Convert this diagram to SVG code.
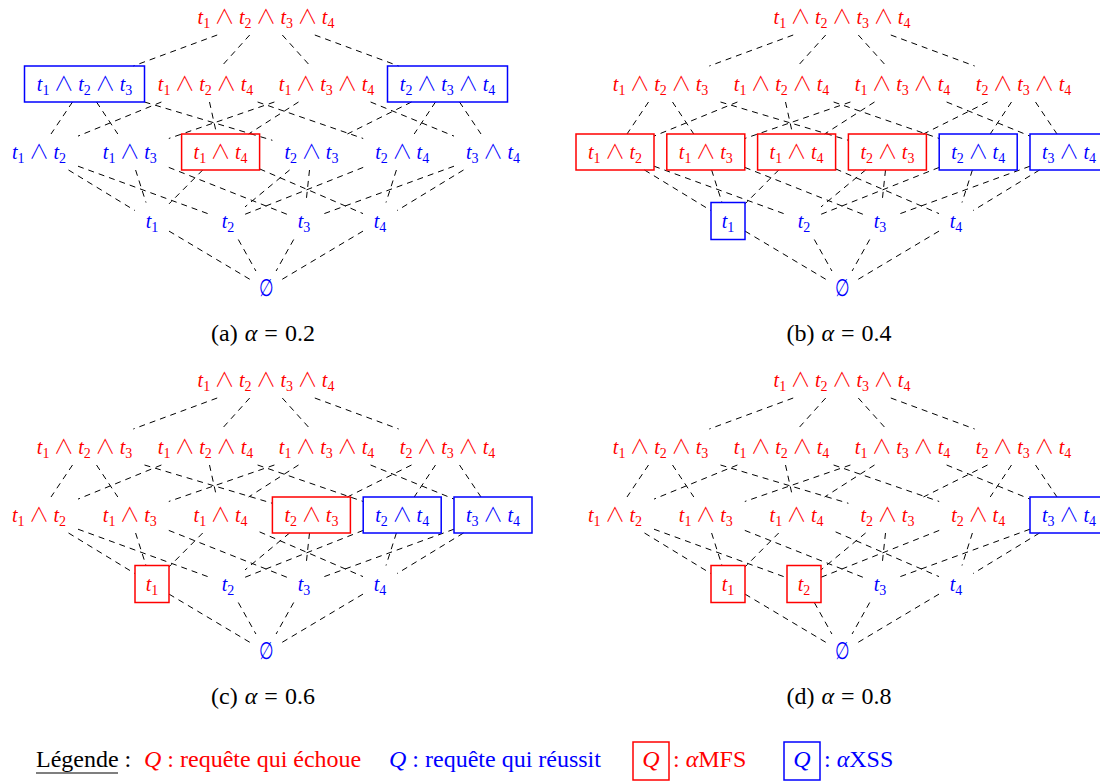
<svg xmlns="http://www.w3.org/2000/svg" width="1100" height="782" viewBox="0 0 1100 782">
<style>
.e line{stroke:#000;stroke-width:1;stroke-dasharray:6 5;fill:none}
text{font-family:"Liberation Serif","DejaVu Serif",serif;font-size:20px;text-anchor:middle}
.r{fill:#ff0000}.b{fill:#0000ff}
.br{fill:none;stroke:#ff0000;stroke-width:1.5}
.bb{fill:none;stroke:#0000ff;stroke-width:1.5}
.v{font-style:italic}
.s{font-size:14px}
.o{font-family:"Noto Sans CJK JP","DejaVu Serif",sans-serif;font-weight:300}
.z{font-family:"DejaVu Serif",serif;font-size:21px}
.cap{font-size:24px;fill:#000;word-spacing:1px}
.lg{font-size:24px;text-anchor:start}
</style>
<rect width="1100" height="782" fill="#fff"/>

<!-- Panel (a) -->
<g id="panel-a">
<g id="a-edges" class="e">
<line x1="217.2" y1="35" x2="133.3" y2="66"/><line x1="249.7" y1="35" x2="221.8" y2="66"/><line x1="282.3" y1="35" x2="310.2" y2="66"/><line x1="314.8" y1="35" x2="398.7" y2="66"/>
<line x1="72.5" y1="102" x2="51" y2="134"/><line x1="96.5" y1="102" x2="117.8" y2="134"/><line x1="144.5" y1="102" x2="272.4" y2="140.3"/><line x1="161.4" y1="102" x2="78" y2="136.1"/><line x1="209.5" y1="102" x2="216.6" y2="134"/><line x1="257.6" y1="102" x2="363.2" y2="138.5"/><line x1="274.4" y1="102" x2="168.8" y2="138.5"/><line x1="298.5" y1="102" x2="248.6" y2="134"/><line x1="370.6" y1="102" x2="454" y2="136.1"/><line x1="411.5" y1="102" x2="347.4" y2="134"/><line x1="435.5" y1="102" x2="414.2" y2="134"/><line x1="459.5" y1="102" x2="481" y2="134"/>
<line x1="68.5" y1="170" x2="135" y2="210.6"/><line x1="78" y1="166.2" x2="211" y2="214.8"/><line x1="135.6" y1="170" x2="146" y2="202.5"/><line x1="168.8" y1="167.4" x2="287" y2="214.3"/><line x1="202.7" y1="170" x2="169" y2="203.9"/><line x1="259.6" y1="168.9" x2="363" y2="213.6"/><line x1="289.6" y1="170" x2="245" y2="206.9"/><line x1="309.5" y1="170" x2="306" y2="202.5"/><line x1="363.2" y1="167.4" x2="245" y2="214.3"/><line x1="396.4" y1="170" x2="386" y2="202.5"/><line x1="454" y1="166.2" x2="321" y2="214.8"/><line x1="463.5" y1="170" x2="397" y2="210.6"/>
<line x1="169" y1="231.1" x2="254" y2="281.8"/><line x1="238.3" y1="239.5" x2="255.9" y2="271"/><line x1="293.7" y1="239.5" x2="276.1" y2="271"/><line x1="363" y1="231.1" x2="278" y2="281.8"/>
</g>
<g id="a-t1234"><text x="266" y="24" class="r"><tspan class="v">t</tspan><tspan class="s" dy="4">1</tspan><tspan class="o" dy="-4"> ∧ </tspan><tspan class="v">t</tspan><tspan class="s" dy="4">2</tspan><tspan class="o" dy="-4"> ∧ </tspan><tspan class="v">t</tspan><tspan class="s" dy="4">3</tspan><tspan class="o" dy="-4"> ∧ </tspan><tspan class="v">t</tspan><tspan class="s" dy="4">4</tspan></text></g>
<g id="a-t123"><rect x="24.5" y="66" width="120" height="36" class="bb"/><text x="84.5" y="91" class="b"><tspan class="v">t</tspan><tspan class="s" dy="4">1</tspan><tspan class="o" dy="-4"> ∧ </tspan><tspan class="v">t</tspan><tspan class="s" dy="4">2</tspan><tspan class="o" dy="-4"> ∧ </tspan><tspan class="v">t</tspan><tspan class="s" dy="4">3</tspan></text></g>
<g id="a-t124"><text x="205.5" y="91" class="r"><tspan class="v">t</tspan><tspan class="s" dy="4">1</tspan><tspan class="o" dy="-4"> ∧ </tspan><tspan class="v">t</tspan><tspan class="s" dy="4">2</tspan><tspan class="o" dy="-4"> ∧ </tspan><tspan class="v">t</tspan><tspan class="s" dy="4">4</tspan></text></g>
<g id="a-t134"><text x="326.5" y="91" class="r"><tspan class="v">t</tspan><tspan class="s" dy="4">1</tspan><tspan class="o" dy="-4"> ∧ </tspan><tspan class="v">t</tspan><tspan class="s" dy="4">3</tspan><tspan class="o" dy="-4"> ∧ </tspan><tspan class="v">t</tspan><tspan class="s" dy="4">4</tspan></text></g>
<g id="a-t234"><rect x="387.5" y="66" width="120" height="36" class="bb"/><text x="447.5" y="91" class="b"><tspan class="v">t</tspan><tspan class="s" dy="4">2</tspan><tspan class="o" dy="-4"> ∧ </tspan><tspan class="v">t</tspan><tspan class="s" dy="4">3</tspan><tspan class="o" dy="-4"> ∧ </tspan><tspan class="v">t</tspan><tspan class="s" dy="4">4</tspan></text></g>
<g id="a-t12"><text x="39" y="159" class="b"><tspan class="v">t</tspan><tspan class="s" dy="4">1</tspan><tspan class="o" dy="-4"> ∧ </tspan><tspan class="v">t</tspan><tspan class="s" dy="4">2</tspan></text></g>
<g id="a-t13"><text x="129.8" y="159" class="b"><tspan class="v">t</tspan><tspan class="s" dy="4">1</tspan><tspan class="o" dy="-4"> ∧ </tspan><tspan class="v">t</tspan><tspan class="s" dy="4">3</tspan></text></g>
<g id="a-t14"><rect x="181.6" y="134" width="78" height="36" class="br"/><text x="220.6" y="159" class="r"><tspan class="v">t</tspan><tspan class="s" dy="4">1</tspan><tspan class="o" dy="-4"> ∧ </tspan><tspan class="v">t</tspan><tspan class="s" dy="4">4</tspan></text></g>
<g id="a-t23"><text x="311.4" y="159" class="b"><tspan class="v">t</tspan><tspan class="s" dy="4">2</tspan><tspan class="o" dy="-4"> ∧ </tspan><tspan class="v">t</tspan><tspan class="s" dy="4">3</tspan></text></g>
<g id="a-t24"><text x="402.2" y="159" class="b"><tspan class="v">t</tspan><tspan class="s" dy="4">2</tspan><tspan class="o" dy="-4"> ∧ </tspan><tspan class="v">t</tspan><tspan class="s" dy="4">4</tspan></text></g>
<g id="a-t34"><text x="493" y="159" class="b"><tspan class="v">t</tspan><tspan class="s" dy="4">3</tspan><tspan class="o" dy="-4"> ∧ </tspan><tspan class="v">t</tspan><tspan class="s" dy="4">4</tspan></text></g>
<g id="a-t1"><text x="152" y="228" class="b"><tspan class="v">t</tspan><tspan class="s" dy="4">1</tspan></text></g>
<g id="a-t2"><text x="228" y="228" class="b"><tspan class="v">t</tspan><tspan class="s" dy="4">2</tspan></text></g>
<g id="a-t3"><text x="304" y="228" class="b"><tspan class="v">t</tspan><tspan class="s" dy="4">3</tspan></text></g>
<g id="a-t4"><text x="380" y="228" class="b"><tspan class="v">t</tspan><tspan class="s" dy="4">4</tspan></text></g>
<g id="a-empty"><text transform="translate(266,296) scale(0.8,1.15)" class="b z">∅</text></g>
<text x="263" y="341" class="cap">(a) <tspan class="v">α</tspan> = 0.2</text>
</g>

<!-- Panel (b) -->
<g id="panel-b" transform="translate(576,0)">
<g id="b-edges" class="e">
<line x1="217.2" y1="35" x2="133.3" y2="66"/><line x1="249.7" y1="35" x2="221.8" y2="66"/><line x1="282.3" y1="35" x2="310.2" y2="66"/><line x1="314.8" y1="35" x2="398.7" y2="66"/>
<line x1="72.5" y1="102" x2="51" y2="134"/><line x1="96.5" y1="102" x2="117.8" y2="134"/><line x1="144.5" y1="102" x2="272.4" y2="140.3"/><line x1="161.4" y1="102" x2="78" y2="136.1"/><line x1="209.5" y1="102" x2="216.6" y2="134"/><line x1="257.6" y1="102" x2="363.2" y2="138.5"/><line x1="274.4" y1="102" x2="168.8" y2="138.5"/><line x1="298.5" y1="102" x2="248.6" y2="134"/><line x1="370.6" y1="102" x2="454" y2="136.1"/><line x1="411.5" y1="102" x2="347.4" y2="134"/><line x1="435.5" y1="102" x2="414.2" y2="134"/><line x1="459.5" y1="102" x2="481" y2="134"/>
<line x1="68.5" y1="170" x2="135" y2="210.6"/><line x1="78" y1="166.2" x2="211" y2="214.8"/><line x1="135.6" y1="170" x2="146" y2="202.5"/><line x1="168.8" y1="167.4" x2="287" y2="214.3"/><line x1="202.7" y1="170" x2="169" y2="203.9"/><line x1="259.6" y1="168.9" x2="363" y2="213.6"/><line x1="289.6" y1="170" x2="245" y2="206.9"/><line x1="309.5" y1="170" x2="306" y2="202.5"/><line x1="363.2" y1="167.4" x2="245" y2="214.3"/><line x1="396.4" y1="170" x2="386" y2="202.5"/><line x1="454" y1="166.2" x2="321" y2="214.8"/><line x1="463.5" y1="170" x2="397" y2="210.6"/>
<line x1="169" y1="231.1" x2="254" y2="281.8"/><line x1="238.3" y1="239.5" x2="255.9" y2="271"/><line x1="293.7" y1="239.5" x2="276.1" y2="271"/><line x1="363" y1="231.1" x2="278" y2="281.8"/>
</g>
<g id="b-t1234"><text x="266" y="24" class="r"><tspan class="v">t</tspan><tspan class="s" dy="4">1</tspan><tspan class="o" dy="-4"> ∧ </tspan><tspan class="v">t</tspan><tspan class="s" dy="4">2</tspan><tspan class="o" dy="-4"> ∧ </tspan><tspan class="v">t</tspan><tspan class="s" dy="4">3</tspan><tspan class="o" dy="-4"> ∧ </tspan><tspan class="v">t</tspan><tspan class="s" dy="4">4</tspan></text></g>
<g id="b-t123"><text x="84.5" y="91" class="r"><tspan class="v">t</tspan><tspan class="s" dy="4">1</tspan><tspan class="o" dy="-4"> ∧ </tspan><tspan class="v">t</tspan><tspan class="s" dy="4">2</tspan><tspan class="o" dy="-4"> ∧ </tspan><tspan class="v">t</tspan><tspan class="s" dy="4">3</tspan></text></g>
<g id="b-t124"><text x="205.5" y="91" class="r"><tspan class="v">t</tspan><tspan class="s" dy="4">1</tspan><tspan class="o" dy="-4"> ∧ </tspan><tspan class="v">t</tspan><tspan class="s" dy="4">2</tspan><tspan class="o" dy="-4"> ∧ </tspan><tspan class="v">t</tspan><tspan class="s" dy="4">4</tspan></text></g>
<g id="b-t134"><text x="326.5" y="91" class="r"><tspan class="v">t</tspan><tspan class="s" dy="4">1</tspan><tspan class="o" dy="-4"> ∧ </tspan><tspan class="v">t</tspan><tspan class="s" dy="4">3</tspan><tspan class="o" dy="-4"> ∧ </tspan><tspan class="v">t</tspan><tspan class="s" dy="4">4</tspan></text></g>
<g id="b-t234"><text x="447.5" y="91" class="r"><tspan class="v">t</tspan><tspan class="s" dy="4">2</tspan><tspan class="o" dy="-4"> ∧ </tspan><tspan class="v">t</tspan><tspan class="s" dy="4">3</tspan><tspan class="o" dy="-4"> ∧ </tspan><tspan class="v">t</tspan><tspan class="s" dy="4">4</tspan></text></g>
<g id="b-t12"><rect x="0" y="134" width="78" height="36" class="br"/><text x="39" y="159" class="r"><tspan class="v">t</tspan><tspan class="s" dy="4">1</tspan><tspan class="o" dy="-4"> ∧ </tspan><tspan class="v">t</tspan><tspan class="s" dy="4">2</tspan></text></g>
<g id="b-t13"><rect x="90.8" y="134" width="78" height="36" class="br"/><text x="129.8" y="159" class="r"><tspan class="v">t</tspan><tspan class="s" dy="4">1</tspan><tspan class="o" dy="-4"> ∧ </tspan><tspan class="v">t</tspan><tspan class="s" dy="4">3</tspan></text></g>
<g id="b-t14"><rect x="181.6" y="134" width="78" height="36" class="br"/><text x="220.6" y="159" class="r"><tspan class="v">t</tspan><tspan class="s" dy="4">1</tspan><tspan class="o" dy="-4"> ∧ </tspan><tspan class="v">t</tspan><tspan class="s" dy="4">4</tspan></text></g>
<g id="b-t23"><rect x="272.4" y="134" width="78" height="36" class="br"/><text x="311.4" y="159" class="r"><tspan class="v">t</tspan><tspan class="s" dy="4">2</tspan><tspan class="o" dy="-4"> ∧ </tspan><tspan class="v">t</tspan><tspan class="s" dy="4">3</tspan></text></g>
<g id="b-t24"><rect x="363.2" y="134" width="78" height="36" class="bb"/><text x="402.2" y="159" class="b"><tspan class="v">t</tspan><tspan class="s" dy="4">2</tspan><tspan class="o" dy="-4"> ∧ </tspan><tspan class="v">t</tspan><tspan class="s" dy="4">4</tspan></text></g>
<g id="b-t34"><rect x="454" y="134" width="78" height="36" class="bb"/><text x="493" y="159" class="b"><tspan class="v">t</tspan><tspan class="s" dy="4">3</tspan><tspan class="o" dy="-4"> ∧ </tspan><tspan class="v">t</tspan><tspan class="s" dy="4">4</tspan></text></g>
<g id="b-t1"><rect x="135" y="202.5" width="34" height="37" class="bb"/><text x="152" y="228" class="b"><tspan class="v">t</tspan><tspan class="s" dy="4">1</tspan></text></g>
<g id="b-t2"><text x="228" y="228" class="b"><tspan class="v">t</tspan><tspan class="s" dy="4">2</tspan></text></g>
<g id="b-t3"><text x="304" y="228" class="b"><tspan class="v">t</tspan><tspan class="s" dy="4">3</tspan></text></g>
<g id="b-t4"><text x="380" y="228" class="b"><tspan class="v">t</tspan><tspan class="s" dy="4">4</tspan></text></g>
<g id="b-empty"><text transform="translate(266,296) scale(0.8,1.15)" class="b z">∅</text></g>
<text x="263" y="341" class="cap">(b) <tspan class="v">α</tspan> = 0.4</text>
</g>

<!-- Panel (c) -->
<g id="panel-c" transform="translate(0,363)">
<g id="c-edges" class="e">
<line x1="217.2" y1="35" x2="133.3" y2="66"/><line x1="249.7" y1="35" x2="221.8" y2="66"/><line x1="282.3" y1="35" x2="310.2" y2="66"/><line x1="314.8" y1="35" x2="398.7" y2="66"/>
<line x1="72.5" y1="102" x2="51" y2="134"/><line x1="96.5" y1="102" x2="117.8" y2="134"/><line x1="144.5" y1="102" x2="272.4" y2="140.3"/><line x1="161.4" y1="102" x2="78" y2="136.1"/><line x1="209.5" y1="102" x2="216.6" y2="134"/><line x1="257.6" y1="102" x2="363.2" y2="138.5"/><line x1="274.4" y1="102" x2="168.8" y2="138.5"/><line x1="298.5" y1="102" x2="248.6" y2="134"/><line x1="370.6" y1="102" x2="454" y2="136.1"/><line x1="411.5" y1="102" x2="347.4" y2="134"/><line x1="435.5" y1="102" x2="414.2" y2="134"/><line x1="459.5" y1="102" x2="481" y2="134"/>
<line x1="68.5" y1="170" x2="135" y2="210.6"/><line x1="78" y1="166.2" x2="211" y2="214.8"/><line x1="135.6" y1="170" x2="146" y2="202.5"/><line x1="168.8" y1="167.4" x2="287" y2="214.3"/><line x1="202.7" y1="170" x2="169" y2="203.9"/><line x1="259.6" y1="168.9" x2="363" y2="213.6"/><line x1="289.6" y1="170" x2="245" y2="206.9"/><line x1="309.5" y1="170" x2="306" y2="202.5"/><line x1="363.2" y1="167.4" x2="245" y2="214.3"/><line x1="396.4" y1="170" x2="386" y2="202.5"/><line x1="454" y1="166.2" x2="321" y2="214.8"/><line x1="463.5" y1="170" x2="397" y2="210.6"/>
<line x1="169" y1="231.1" x2="254" y2="281.8"/><line x1="238.3" y1="239.5" x2="255.9" y2="271"/><line x1="293.7" y1="239.5" x2="276.1" y2="271"/><line x1="363" y1="231.1" x2="278" y2="281.8"/>
</g>
<g id="c-t1234"><text x="266" y="24" class="r"><tspan class="v">t</tspan><tspan class="s" dy="4">1</tspan><tspan class="o" dy="-4"> ∧ </tspan><tspan class="v">t</tspan><tspan class="s" dy="4">2</tspan><tspan class="o" dy="-4"> ∧ </tspan><tspan class="v">t</tspan><tspan class="s" dy="4">3</tspan><tspan class="o" dy="-4"> ∧ </tspan><tspan class="v">t</tspan><tspan class="s" dy="4">4</tspan></text></g>
<g id="c-t123"><text x="84.5" y="91" class="r"><tspan class="v">t</tspan><tspan class="s" dy="4">1</tspan><tspan class="o" dy="-4"> ∧ </tspan><tspan class="v">t</tspan><tspan class="s" dy="4">2</tspan><tspan class="o" dy="-4"> ∧ </tspan><tspan class="v">t</tspan><tspan class="s" dy="4">3</tspan></text></g>
<g id="c-t124"><text x="205.5" y="91" class="r"><tspan class="v">t</tspan><tspan class="s" dy="4">1</tspan><tspan class="o" dy="-4"> ∧ </tspan><tspan class="v">t</tspan><tspan class="s" dy="4">2</tspan><tspan class="o" dy="-4"> ∧ </tspan><tspan class="v">t</tspan><tspan class="s" dy="4">4</tspan></text></g>
<g id="c-t134"><text x="326.5" y="91" class="r"><tspan class="v">t</tspan><tspan class="s" dy="4">1</tspan><tspan class="o" dy="-4"> ∧ </tspan><tspan class="v">t</tspan><tspan class="s" dy="4">3</tspan><tspan class="o" dy="-4"> ∧ </tspan><tspan class="v">t</tspan><tspan class="s" dy="4">4</tspan></text></g>
<g id="c-t234"><text x="447.5" y="91" class="r"><tspan class="v">t</tspan><tspan class="s" dy="4">2</tspan><tspan class="o" dy="-4"> ∧ </tspan><tspan class="v">t</tspan><tspan class="s" dy="4">3</tspan><tspan class="o" dy="-4"> ∧ </tspan><tspan class="v">t</tspan><tspan class="s" dy="4">4</tspan></text></g>
<g id="c-t12"><text x="39" y="159" class="r"><tspan class="v">t</tspan><tspan class="s" dy="4">1</tspan><tspan class="o" dy="-4"> ∧ </tspan><tspan class="v">t</tspan><tspan class="s" dy="4">2</tspan></text></g>
<g id="c-t13"><text x="129.8" y="159" class="r"><tspan class="v">t</tspan><tspan class="s" dy="4">1</tspan><tspan class="o" dy="-4"> ∧ </tspan><tspan class="v">t</tspan><tspan class="s" dy="4">3</tspan></text></g>
<g id="c-t14"><text x="220.6" y="159" class="r"><tspan class="v">t</tspan><tspan class="s" dy="4">1</tspan><tspan class="o" dy="-4"> ∧ </tspan><tspan class="v">t</tspan><tspan class="s" dy="4">4</tspan></text></g>
<g id="c-t23"><rect x="272.4" y="134" width="78" height="36" class="br"/><text x="311.4" y="159" class="r"><tspan class="v">t</tspan><tspan class="s" dy="4">2</tspan><tspan class="o" dy="-4"> ∧ </tspan><tspan class="v">t</tspan><tspan class="s" dy="4">3</tspan></text></g>
<g id="c-t24"><rect x="363.2" y="134" width="78" height="36" class="bb"/><text x="402.2" y="159" class="b"><tspan class="v">t</tspan><tspan class="s" dy="4">2</tspan><tspan class="o" dy="-4"> ∧ </tspan><tspan class="v">t</tspan><tspan class="s" dy="4">4</tspan></text></g>
<g id="c-t34"><rect x="454" y="134" width="78" height="36" class="bb"/><text x="493" y="159" class="b"><tspan class="v">t</tspan><tspan class="s" dy="4">3</tspan><tspan class="o" dy="-4"> ∧ </tspan><tspan class="v">t</tspan><tspan class="s" dy="4">4</tspan></text></g>
<g id="c-t1"><rect x="135" y="202.5" width="34" height="37" class="br"/><text x="152" y="228" class="r"><tspan class="v">t</tspan><tspan class="s" dy="4">1</tspan></text></g>
<g id="c-t2"><text x="228" y="228" class="b"><tspan class="v">t</tspan><tspan class="s" dy="4">2</tspan></text></g>
<g id="c-t3"><text x="304" y="228" class="b"><tspan class="v">t</tspan><tspan class="s" dy="4">3</tspan></text></g>
<g id="c-t4"><text x="380" y="228" class="b"><tspan class="v">t</tspan><tspan class="s" dy="4">4</tspan></text></g>
<g id="c-empty"><text transform="translate(266,296) scale(0.8,1.15)" class="b z">∅</text></g>
<text x="263" y="341" class="cap">(c) <tspan class="v">α</tspan> = 0.6</text>
</g>

<!-- Panel (d) -->
<g id="panel-d" transform="translate(576,363)">
<g id="d-edges" class="e">
<line x1="217.2" y1="35" x2="133.3" y2="66"/><line x1="249.7" y1="35" x2="221.8" y2="66"/><line x1="282.3" y1="35" x2="310.2" y2="66"/><line x1="314.8" y1="35" x2="398.7" y2="66"/>
<line x1="72.5" y1="102" x2="51" y2="134"/><line x1="96.5" y1="102" x2="117.8" y2="134"/><line x1="144.5" y1="102" x2="272.4" y2="140.3"/><line x1="161.4" y1="102" x2="78" y2="136.1"/><line x1="209.5" y1="102" x2="216.6" y2="134"/><line x1="257.6" y1="102" x2="363.2" y2="138.5"/><line x1="274.4" y1="102" x2="168.8" y2="138.5"/><line x1="298.5" y1="102" x2="248.6" y2="134"/><line x1="370.6" y1="102" x2="454" y2="136.1"/><line x1="411.5" y1="102" x2="347.4" y2="134"/><line x1="435.5" y1="102" x2="414.2" y2="134"/><line x1="459.5" y1="102" x2="481" y2="134"/>
<line x1="68.5" y1="170" x2="135" y2="210.6"/><line x1="78" y1="166.2" x2="211" y2="214.8"/><line x1="135.6" y1="170" x2="146" y2="202.5"/><line x1="168.8" y1="167.4" x2="287" y2="214.3"/><line x1="202.7" y1="170" x2="169" y2="203.9"/><line x1="259.6" y1="168.9" x2="363" y2="213.6"/><line x1="289.6" y1="170" x2="245" y2="206.9"/><line x1="309.5" y1="170" x2="306" y2="202.5"/><line x1="363.2" y1="167.4" x2="245" y2="214.3"/><line x1="396.4" y1="170" x2="386" y2="202.5"/><line x1="454" y1="166.2" x2="321" y2="214.8"/><line x1="463.5" y1="170" x2="397" y2="210.6"/>
<line x1="169" y1="231.1" x2="254" y2="281.8"/><line x1="238.3" y1="239.5" x2="255.9" y2="271"/><line x1="293.7" y1="239.5" x2="276.1" y2="271"/><line x1="363" y1="231.1" x2="278" y2="281.8"/>
</g>
<g id="d-t1234"><text x="266" y="24" class="r"><tspan class="v">t</tspan><tspan class="s" dy="4">1</tspan><tspan class="o" dy="-4"> ∧ </tspan><tspan class="v">t</tspan><tspan class="s" dy="4">2</tspan><tspan class="o" dy="-4"> ∧ </tspan><tspan class="v">t</tspan><tspan class="s" dy="4">3</tspan><tspan class="o" dy="-4"> ∧ </tspan><tspan class="v">t</tspan><tspan class="s" dy="4">4</tspan></text></g>
<g id="d-t123"><text x="84.5" y="91" class="r"><tspan class="v">t</tspan><tspan class="s" dy="4">1</tspan><tspan class="o" dy="-4"> ∧ </tspan><tspan class="v">t</tspan><tspan class="s" dy="4">2</tspan><tspan class="o" dy="-4"> ∧ </tspan><tspan class="v">t</tspan><tspan class="s" dy="4">3</tspan></text></g>
<g id="d-t124"><text x="205.5" y="91" class="r"><tspan class="v">t</tspan><tspan class="s" dy="4">1</tspan><tspan class="o" dy="-4"> ∧ </tspan><tspan class="v">t</tspan><tspan class="s" dy="4">2</tspan><tspan class="o" dy="-4"> ∧ </tspan><tspan class="v">t</tspan><tspan class="s" dy="4">4</tspan></text></g>
<g id="d-t134"><text x="326.5" y="91" class="r"><tspan class="v">t</tspan><tspan class="s" dy="4">1</tspan><tspan class="o" dy="-4"> ∧ </tspan><tspan class="v">t</tspan><tspan class="s" dy="4">3</tspan><tspan class="o" dy="-4"> ∧ </tspan><tspan class="v">t</tspan><tspan class="s" dy="4">4</tspan></text></g>
<g id="d-t234"><text x="447.5" y="91" class="r"><tspan class="v">t</tspan><tspan class="s" dy="4">2</tspan><tspan class="o" dy="-4"> ∧ </tspan><tspan class="v">t</tspan><tspan class="s" dy="4">3</tspan><tspan class="o" dy="-4"> ∧ </tspan><tspan class="v">t</tspan><tspan class="s" dy="4">4</tspan></text></g>
<g id="d-t12"><text x="39" y="159" class="r"><tspan class="v">t</tspan><tspan class="s" dy="4">1</tspan><tspan class="o" dy="-4"> ∧ </tspan><tspan class="v">t</tspan><tspan class="s" dy="4">2</tspan></text></g>
<g id="d-t13"><text x="129.8" y="159" class="r"><tspan class="v">t</tspan><tspan class="s" dy="4">1</tspan><tspan class="o" dy="-4"> ∧ </tspan><tspan class="v">t</tspan><tspan class="s" dy="4">3</tspan></text></g>
<g id="d-t14"><text x="220.6" y="159" class="r"><tspan class="v">t</tspan><tspan class="s" dy="4">1</tspan><tspan class="o" dy="-4"> ∧ </tspan><tspan class="v">t</tspan><tspan class="s" dy="4">4</tspan></text></g>
<g id="d-t23"><text x="311.4" y="159" class="r"><tspan class="v">t</tspan><tspan class="s" dy="4">2</tspan><tspan class="o" dy="-4"> ∧ </tspan><tspan class="v">t</tspan><tspan class="s" dy="4">3</tspan></text></g>
<g id="d-t24"><text x="402.2" y="159" class="r"><tspan class="v">t</tspan><tspan class="s" dy="4">2</tspan><tspan class="o" dy="-4"> ∧ </tspan><tspan class="v">t</tspan><tspan class="s" dy="4">4</tspan></text></g>
<g id="d-t34"><rect x="454" y="134" width="78" height="36" class="bb"/><text x="493" y="159" class="b"><tspan class="v">t</tspan><tspan class="s" dy="4">3</tspan><tspan class="o" dy="-4"> ∧ </tspan><tspan class="v">t</tspan><tspan class="s" dy="4">4</tspan></text></g>
<g id="d-t1"><rect x="135" y="202.5" width="34" height="37" class="br"/><text x="152" y="228" class="r"><tspan class="v">t</tspan><tspan class="s" dy="4">1</tspan></text></g>
<g id="d-t2"><rect x="211" y="202.5" width="34" height="37" class="br"/><text x="228" y="228" class="r"><tspan class="v">t</tspan><tspan class="s" dy="4">2</tspan></text></g>
<g id="d-t3"><text x="304" y="228" class="b"><tspan class="v">t</tspan><tspan class="s" dy="4">3</tspan></text></g>
<g id="d-t4"><text x="380" y="228" class="b"><tspan class="v">t</tspan><tspan class="s" dy="4">4</tspan></text></g>
<g id="d-empty"><text transform="translate(266,296) scale(0.8,1.15)" class="b z">∅</text></g>
<text x="263" y="341" class="cap">(d) <tspan class="v">α</tspan> = 0.8</text>
</g>

<!-- Legend -->
<g id="legend">
<text x="36" y="767" class="lg" fill="#000">Légende :</text>
<line x1="36" y1="773" x2="118" y2="773" stroke="#000" stroke-width="1.2"/>
<text x="144" y="767" class="lg r"><tspan class="v">Q</tspan> : requête qui échoue</text>
<text x="389" y="767" class="lg b"><tspan class="v">Q</tspan> : requête qui réussit</text>
<rect x="633" y="742" width="36" height="38" class="br"/>
<text x="651" y="767" class="r" style="font-size:24px;font-style:italic">Q</text>
<text x="673" y="767" class="lg r">: <tspan class="v">α</tspan>MFS</text>
<rect x="784" y="742" width="36" height="38" class="bb"/>
<text x="802" y="767" class="b" style="font-size:24px;font-style:italic">Q</text>
<text x="824" y="767" class="lg b">: <tspan class="v">α</tspan>XSS</text>
</g>
</svg>
